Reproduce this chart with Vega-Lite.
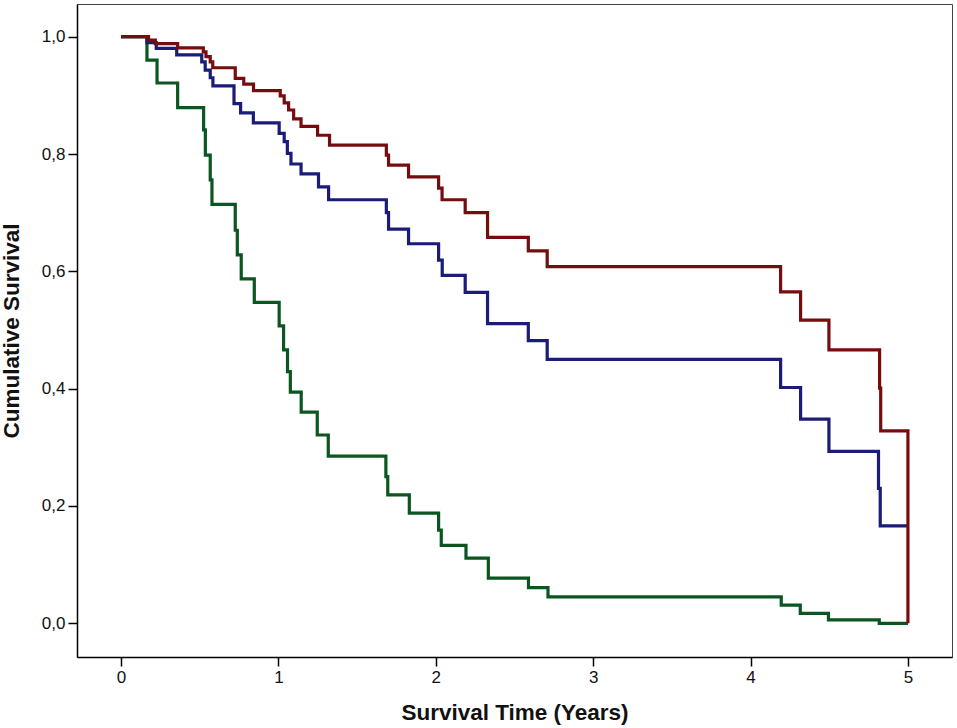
{
  "$schema": "https://vega.github.io/schema/vega-lite/v6.json",
  "width": 875,
  "height": 653,
  "autosize": "none",
  "padding": {"left": 77, "top": 4, "right": 5, "bottom": 71},
  "background": "white",
  "data": {
    "values": [
      {"group": "A", "t": 0, "s": 1.0},
      {"group": "A", "t": 0.175, "s": 0.994},
      {"group": "A", "t": 0.218, "s": 0.988},
      {"group": "A", "t": 0.36, "s": 0.981},
      {"group": "A", "t": 0.523, "s": 0.974},
      {"group": "A", "t": 0.54, "s": 0.966},
      {"group": "A", "t": 0.567, "s": 0.957},
      {"group": "A", "t": 0.583, "s": 0.947},
      {"group": "A", "t": 0.726, "s": 0.929},
      {"group": "A", "t": 0.78, "s": 0.919},
      {"group": "A", "t": 0.842, "s": 0.908},
      {"group": "A", "t": 1.012, "s": 0.899},
      {"group": "A", "t": 1.037, "s": 0.887},
      {"group": "A", "t": 1.065, "s": 0.875},
      {"group": "A", "t": 1.097, "s": 0.86},
      {"group": "A", "t": 1.144, "s": 0.847},
      {"group": "A", "t": 1.249, "s": 0.832},
      {"group": "A", "t": 1.325, "s": 0.815},
      {"group": "A", "t": 1.686, "s": 0.798},
      {"group": "A", "t": 1.7, "s": 0.781},
      {"group": "A", "t": 1.827, "s": 0.761},
      {"group": "A", "t": 2.018, "s": 0.742},
      {"group": "A", "t": 2.04, "s": 0.722},
      {"group": "A", "t": 2.187, "s": 0.7},
      {"group": "A", "t": 2.329, "s": 0.658},
      {"group": "A", "t": 2.588, "s": 0.635},
      {"group": "A", "t": 2.708, "s": 0.608},
      {"group": "A", "t": 4.191, "s": 0.565},
      {"group": "A", "t": 4.318, "s": 0.517},
      {"group": "A", "t": 4.498, "s": 0.466},
      {"group": "A", "t": 4.82, "s": 0.401},
      {"group": "A", "t": 4.827, "s": 0.328},
      {"group": "A", "t": 5.0, "s": 0.0},
      {"group": "B", "t": 0, "s": 1.0},
      {"group": "B", "t": 0.165, "s": 0.99},
      {"group": "B", "t": 0.224, "s": 0.98},
      {"group": "B", "t": 0.354, "s": 0.969},
      {"group": "B", "t": 0.513, "s": 0.957},
      {"group": "B", "t": 0.535, "s": 0.943},
      {"group": "B", "t": 0.567, "s": 0.93},
      {"group": "B", "t": 0.584, "s": 0.916},
      {"group": "B", "t": 0.718, "s": 0.886},
      {"group": "B", "t": 0.76, "s": 0.87},
      {"group": "B", "t": 0.841, "s": 0.853},
      {"group": "B", "t": 1.005, "s": 0.835},
      {"group": "B", "t": 1.037, "s": 0.821},
      {"group": "B", "t": 1.057, "s": 0.801},
      {"group": "B", "t": 1.08, "s": 0.783},
      {"group": "B", "t": 1.144, "s": 0.766},
      {"group": "B", "t": 1.255, "s": 0.744},
      {"group": "B", "t": 1.319, "s": 0.722},
      {"group": "B", "t": 1.686, "s": 0.7},
      {"group": "B", "t": 1.7, "s": 0.672},
      {"group": "B", "t": 1.827, "s": 0.647},
      {"group": "B", "t": 2.018, "s": 0.619},
      {"group": "B", "t": 2.041, "s": 0.593},
      {"group": "B", "t": 2.187, "s": 0.564},
      {"group": "B", "t": 2.329, "s": 0.511},
      {"group": "B", "t": 2.588, "s": 0.482},
      {"group": "B", "t": 2.708, "s": 0.45},
      {"group": "B", "t": 4.191, "s": 0.402},
      {"group": "B", "t": 4.318, "s": 0.348},
      {"group": "B", "t": 4.498, "s": 0.293},
      {"group": "B", "t": 4.813, "s": 0.23},
      {"group": "B", "t": 4.824, "s": 0.166},
      {"group": "B", "t": 4.995, "s": 0.166},
      {"group": "C", "t": 0, "s": 1.0},
      {"group": "C", "t": 0.165, "s": 0.96},
      {"group": "C", "t": 0.229, "s": 0.921},
      {"group": "C", "t": 0.36, "s": 0.879},
      {"group": "C", "t": 0.525, "s": 0.841},
      {"group": "C", "t": 0.536, "s": 0.798},
      {"group": "C", "t": 0.567, "s": 0.756},
      {"group": "C", "t": 0.578, "s": 0.714},
      {"group": "C", "t": 0.726, "s": 0.67},
      {"group": "C", "t": 0.739, "s": 0.628},
      {"group": "C", "t": 0.764, "s": 0.587},
      {"group": "C", "t": 0.847, "s": 0.547},
      {"group": "C", "t": 1.005, "s": 0.507},
      {"group": "C", "t": 1.033, "s": 0.466},
      {"group": "C", "t": 1.058, "s": 0.429},
      {"group": "C", "t": 1.076, "s": 0.394},
      {"group": "C", "t": 1.145, "s": 0.36},
      {"group": "C", "t": 1.247, "s": 0.321},
      {"group": "C", "t": 1.317, "s": 0.285},
      {"group": "C", "t": 1.683, "s": 0.25},
      {"group": "C", "t": 1.695, "s": 0.219},
      {"group": "C", "t": 1.832, "s": 0.188},
      {"group": "C", "t": 2.018, "s": 0.159},
      {"group": "C", "t": 2.035, "s": 0.133},
      {"group": "C", "t": 2.192, "s": 0.111},
      {"group": "C", "t": 2.334, "s": 0.077},
      {"group": "C", "t": 2.589, "s": 0.061},
      {"group": "C", "t": 2.713, "s": 0.045},
      {"group": "C", "t": 4.195, "s": 0.031},
      {"group": "C", "t": 4.316, "s": 0.017},
      {"group": "C", "t": 4.495, "s": 0.006},
      {"group": "C", "t": 4.818, "s": 0.0},
      {"group": "C", "t": 5.0, "s": 0.0}
    ]
  },
  "encoding": {
    "x": {
      "field": "t",
      "type": "quantitative",
      "scale": {"domain": [-0.2795, 5.28], "nice": false, "zero": false},
      "axis": {"values": [0, 1, 2, 3, 4, 5], "title": "Survival Time (Years)", "titlePadding": 16}
    },
    "y": {
      "field": "s",
      "type": "quantitative",
      "scale": {"domain": [-0.0574, 1.0557], "nice": false, "zero": false},
      "axis": {
        "values": [0, 0.2, 0.4, 0.6, 0.8, 1.0],
        "labelExpr": "replace(format(datum.value, '.1f'), '.', ',')",
        "title": "Cumulative Survival",
        "titlePadding": 18
      }
    }
  },
  "layer": [
    {
      "transform": [{"filter": "datum.group == 'C'"}],
      "mark": {"type": "line", "interpolate": "step-after", "color": "#0b5520", "strokeWidth": 3.2}
    },
    {
      "transform": [{"filter": "datum.group == 'B'"}],
      "mark": {"type": "line", "interpolate": "step-after", "color": "#1a1c78", "strokeWidth": 3.2}
    },
    {
      "transform": [{"filter": "datum.group == 'A'"}],
      "mark": {"type": "line", "interpolate": "step-after", "color": "#760c0e", "strokeWidth": 3.2}
    }
  ],
  "config": {
    "view": {"stroke": "#444", "strokeWidth": 1},
    "axis": {
      "grid": false,
      "domainColor": "#000",
      "domainWidth": 1.5,
      "tickColor": "#000",
      "tickWidth": 1.5,
      "tickSize": 9,
      "labelPadding": 3,
      "labelFont": "Liberation Sans",
      "labelFontSize": 17,
      "labelColor": "#111",
      "titleFont": "Liberation Sans",
      "titleFontSize": 22.5,
      "titleFontWeight": "bold",
      "titleColor": "#111"
    }
  }
}
